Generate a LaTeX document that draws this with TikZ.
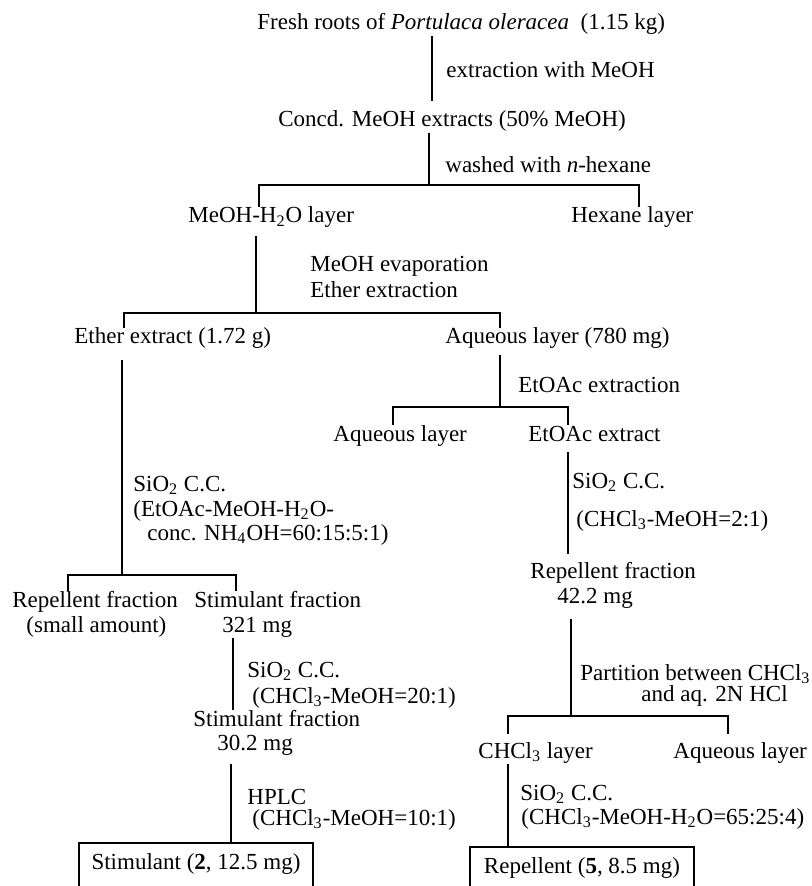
\documentclass[tikz,border=0pt]{standalone}
\usepackage{fontspec}
\setmainfont{Liberation Serif}
\newcommand{\low}[1]{\textsubscript{#1}}

\begin{document}
\begin{tikzpicture}[x=0.5pt, y=-0.5pt,
	every node/.style={font=\fontsize{11.5}{13}\selectfont},
	stage/.style={anchor=west, inner sep=1pt, text height=.7em, text depth=.2em},
	spine/.style={line width=1pt},
	result/.style={draw, line width=1pt, anchor=north, inner xsep=2pt, inner ysep=6pt, text height=.7em, text depth=1.5em}]

	\useasboundingbox (0,0) rectangle (811,886);
	\clip (0,0) rectangle (811,886);

	\node[stage](fresh) at (255,25) {Fresh roots of \textit{Portulaca oleracea}\ \ (1.15 kg)};

	\node[stage](concd) at (276,122) {Concd. MeOH extracts (50\% MeOH)};

	\node[stage](mwl) at (186,218) {MeOH-H\low{2}O layer};
	\node[stage](hexane) at (569,218) {Hexane layer};

	\node[stage](ether) at (72,339) {Ether extract (1.72 g)};
	\node[stage](aq1) at (443,339) {Aqueous layer (780 mg)};

	\node[stage](aq2) at (331,436) {Aqueous layer};
	\node[stage](etoac) at (526,436) {EtOAc extract};

	\node[stage](rep0) at (10,602) {Repellent fraction};
	\node[stage](rep0b) at (24,627) {(small amount)};
	\node[stage](stim1) at (192,602) {Stimulant fraction};
	\node[stage](stim1b) at (220,627) {321 mg};

	\node[stage](rep1) at (528,573) {Repellent fraction};
	\node[stage](rep1b) at (555,598) {42.2 mg};

	\node[stage](stim2) at (191,721) {Stimulant fraction};
	\node[stage](stim2b) at (215,745) {30.2 mg};

	\node[stage](chl) at (476,753) {CHCl\low{3} layer};
	\node[stage](aq3) at (671,753) {Aqueous layer};

	\node[result, minimum width=117pt](stimbox) at (196,842) {Stimulant (\textbf{2}, 12.5 mg)};
	\node[result, minimum width=112pt](repbox) at (582,846) {Repellent (\textbf{5}, 8.5 mg)};

	% Conditions

	\node[stage](ext) at (444,73) {extraction with MeOH};
	\node[stage](wash) at (443,168) {washed with \textit{n}-hexane};
	\node[stage](evap) at (308,267) {MeOH evaporation};
	\node[stage](etherx) at (308,293) {Ether extraction};
	\node[stage](etx) at (516,388) {EtOAc extraction};

	\node[stage](cc1) at (131,486) {SiO\low{2} C.C.};
	\node[stage](cc1a) at (131,511) {(EtOAc-MeOH-H\low{2}O-};
	\node[stage](cc1b) at (145,535) {conc. NH\low{4}OH=60:15:5:1)};

	\node[stage](cc2) at (570,483) {SiO\low{2} C.C.};
	\node[stage](cc2a) at (574,521) {(CHCl\low{3}-MeOH=2:1)};

	\node[stage](cc3) at (245,672) {SiO\low{2} C.C.};
	\node[stage](cc3a) at (250,698) {(CHCl\low{3}-MeOH=20:1)};

	\node[stage](hplc) at (245,799) {HPLC};
	\node[stage](hplca) at (250,820) {(CHCl\low{3}-MeOH=10:1)};

	\node[stage](part) at (578,675) {Partition between CHCl\low{3}};
	\node[stage](parta) at (639,696) {and aq. 2N HCl};

	\node[stage](cc4) at (518,795) {SiO\low{2} C.C.};
	\node[stage](cc4a) at (519,819) {(CHCl\low{3}-MeOH-H\low{2}O=65:25:4)};

	% Lines

	\coordinate (s1) at (432,0);
	\coordinate (s3) at (233,0);
	\coordinate (s4) at (231,0);
	\coordinate (b1) at (429,185); \coordinate (b1w) at (259,185); \coordinate (b1e) at (639,185);
	\coordinate (b2) at (256,313); \coordinate (b2w) at (124,313); \coordinate (b2e) at (500,313);
	\coordinate (b3) at (122,575); \coordinate (b3w) at (68,575);  \coordinate (b3e) at (236,575);
	\coordinate (b4) at (500,407); \coordinate (b4w) at (393,407); \coordinate (b4e) at (568,407);
	\coordinate (b5) at (571,716); \coordinate (b5w) at (508,716); \coordinate (b5e) at (728,716);

	\draw [spine, shorten >=5pt] (fresh.south -| s1) -- (concd.north -| s1);
	\draw [spine] (concd.south -| b1) -- (b1);
	\draw [spine] (mwl.north -| b1w) -- (b1w) -- (b1e) -- (hexane.north -| b1e);

	\draw [spine, shorten <=3.5pt] (mwl.south -| b2) -- (b2);
	\draw [spine] (ether.north -| b2w) -- (b2w) -- (b2e) -- (aq1.north -| b2e);

	\draw [spine, shorten <=5pt] (ether.south -| b3) -- (b3);
	\draw [spine] (rep0.north -| b3w) -- (b3w) -- (b3e) -- (stim1.north -| b3e);
	\draw [spine] (stim1b.south -| s3) -- (stim2.north -| s3);
	\draw [spine, shorten <=4pt] (stim2b.south -| s4) -- (stimbox.north -| s4);

	\draw [spine, shorten <=2.5pt] (aq1.south -| b4) -- (b4);
	\draw [spine] (aq2.north -| b4w) -- (b4w) -- (b4e) -- (etoac.north -| b4e);
	\draw [spine, shorten <=2.5pt, shorten >=4pt] (etoac.south -| b4e) -- (rep1.north -| b4e);

	\draw [spine, shorten <=5pt] (rep1b.south -| b5) -- (b5);
	\draw [spine, shorten <=4pt, shorten >=4pt] (chl.north -| b5w) -- (b5w) -- (b5e) -- (aq3.north -| b5e);
	\draw [spine] (chl.south -| b5w) -- (repbox.north -| b5w);

\end{tikzpicture}
\end{document}
